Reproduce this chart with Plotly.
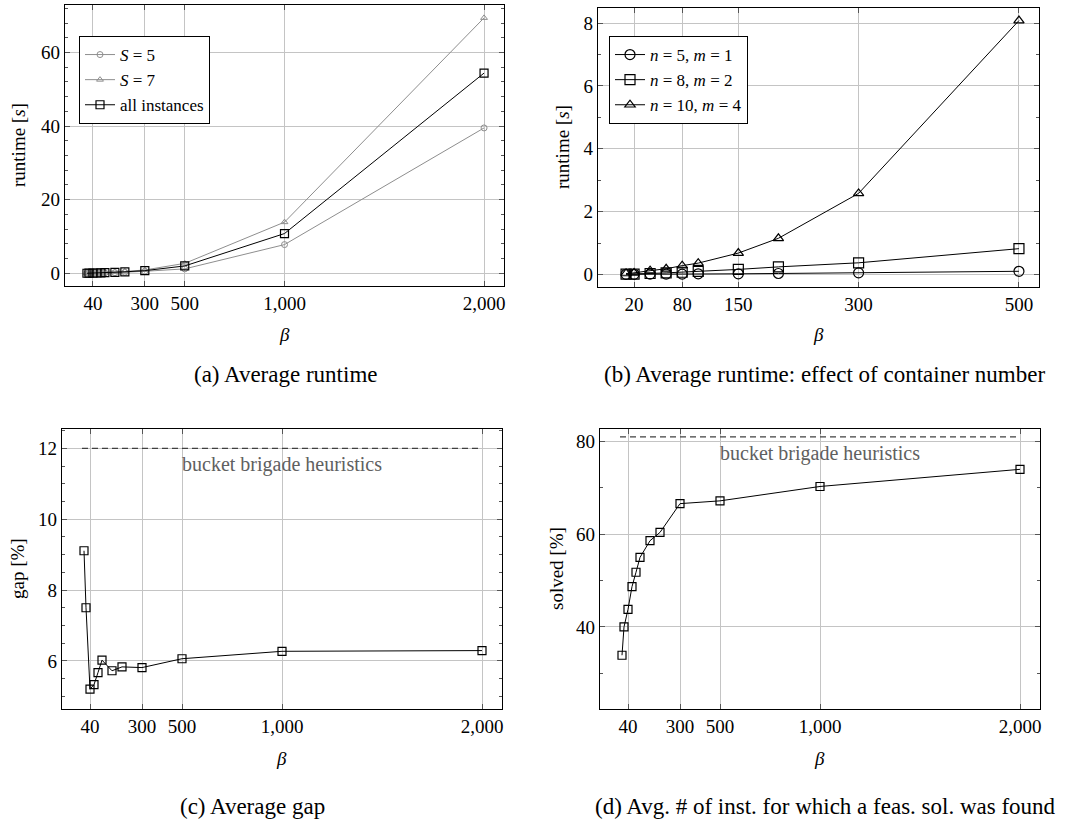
import plotly.graph_objects as go

# ---------------- data ----------------
beta_a = [10, 20, 40, 60, 80, 100, 150, 200, 300, 500, 1000, 2000]
runtime_S5 = [0.01, 0.02, 0.04, 0.06, 0.09, 0.12, 0.2, 0.3, 0.55, 1.2, 7.8, 39.5]
runtime_S7 = [0.02, 0.04, 0.07, 0.1, 0.14, 0.2, 0.35, 0.5, 0.9, 2.7, 13.9, 69.4]
runtime_all = [0.015, 0.03, 0.055, 0.08, 0.11, 0.16, 0.27, 0.4, 0.72, 2.0, 10.8, 54.4]

beta_b = [10, 20, 40, 60, 80, 100, 150, 200, 300, 500]
runtime_n5 = [0.005, 0.005, 0.01, 0.01, 0.01, 0.02, 0.02, 0.03, 0.05, 0.1]
runtime_n8 = [0.01, 0.01, 0.03, 0.05, 0.07, 0.1, 0.16, 0.24, 0.37, 0.82]
runtime_n10 = [0.03, 0.05, 0.12, 0.18, 0.28, 0.36, 0.68, 1.15, 2.58, 8.08]

gap = [9.11, 7.5, 5.2, 5.33, 5.67, 6.02, 5.72, 5.83, 5.81, 6.06, 6.27, 6.29]
solved = [33.9, 40.0, 43.8, 48.7, 51.8, 55.0, 58.6, 60.4, 66.6, 67.2, 70.3, 74.0]

heur_x = [0, 2000]
heur_gap = [12, 12]
heur_solved = [81, 81]
heur_label = "bucket brigade heuristics"

xticks_big = [40, 300, 500, 1000, 2000]
xticklabels_big = ["40", "300", "500", "1,000", "2,000"]
xticks_b = [20, 80, 150, 300, 500]
xticklabels_b = ["20", "80", "150", "300", "500"]

captions = [
    "(a) Average runtime",
    "(b) Average runtime: effect of container number",
    "(c) Average gap",
    "(d) Avg. # of inst. for which a feas. sol. was found",
]

# ---------------- style ----------------
W, H = 1070, 823
FONT = "Liberation Serif, Times New Roman, serif"
GRAY = "#8e8e8e"
GRID = "#c4c4c4"
TICK_SIZE = 19


def px(x0, x1):
    return [x0 / W, x1 / W]


def py(y0, y1):
    return [1 - y1 / H, 1 - y0 / H]


fig = go.Figure()

# (a)
fig.add_trace(go.Scatter(x=beta_a, y=runtime_S5, mode="lines+markers", name="<i>S</i> = 5",
                         line=dict(color=GRAY, width=1),
                         marker=dict(symbol="circle-open", size=6, color=GRAY, line=dict(width=1)),
                         xaxis="x", yaxis="y", legend="legend"))
fig.add_trace(go.Scatter(x=beta_a, y=runtime_S7, mode="lines+markers", name="<i>S</i> = 7",
                         line=dict(color=GRAY, width=1),
                         marker=dict(symbol="triangle-up-open", size=6, color=GRAY, line=dict(width=1)),
                         xaxis="x", yaxis="y", legend="legend"))
fig.add_trace(go.Scatter(x=beta_a, y=runtime_all, mode="lines+markers", name="all instances",
                         line=dict(color="black", width=1),
                         marker=dict(symbol="square-open", size=8, color="black", line=dict(width=1.2)),
                         xaxis="x", yaxis="y", legend="legend"))

# (b)
fig.add_trace(go.Scatter(x=beta_b, y=runtime_n5, mode="lines+markers", name="<i>n</i> = 5, <i>m</i> = 1",
                         line=dict(color="black", width=1),
                         marker=dict(symbol="circle-open", size=10, color="black", line=dict(width=1.2)),
                         xaxis="x2", yaxis="y2", legend="legend2"))
fig.add_trace(go.Scatter(x=beta_b, y=runtime_n8, mode="lines+markers", name="<i>n</i> = 8, <i>m</i> = 2",
                         line=dict(color="black", width=1),
                         marker=dict(symbol="square-open", size=10, color="black", line=dict(width=1.2)),
                         xaxis="x2", yaxis="y2", legend="legend2"))
fig.add_trace(go.Scatter(x=beta_b, y=runtime_n10, mode="lines+markers", name="<i>n</i> = 10, <i>m</i> = 4",
                         line=dict(color="black", width=1),
                         marker=dict(symbol="triangle-up-open", size=9, color="black", line=dict(width=1.2)),
                         xaxis="x2", yaxis="y2", legend="legend2"))

# (c)
fig.add_trace(go.Scatter(x=heur_x, y=heur_gap, mode="lines", showlegend=False,
                         line=dict(color="#404040", width=1.2, dash="6px,4px"),
                         xaxis="x3", yaxis="y3"))
fig.add_trace(go.Scatter(x=beta_a, y=gap, mode="lines+markers", showlegend=False,
                         line=dict(color="black", width=1),
                         marker=dict(symbol="square-open", size=8, color="black", line=dict(width=1.2)),
                         xaxis="x3", yaxis="y3"))

# (d)
fig.add_trace(go.Scatter(x=heur_x, y=heur_solved, mode="lines", showlegend=False,
                         line=dict(color="#404040", width=1.2, dash="6px,4px"),
                         xaxis="x4", yaxis="y4"))
fig.add_trace(go.Scatter(x=beta_a, y=solved, mode="lines+markers", showlegend=False,
                         line=dict(color="black", width=1),
                         marker=dict(symbol="square-open", size=8, color="black", line=dict(width=1.2)),
                         xaxis="x4", yaxis="y4"))

tickfont = dict(family=FONT, size=TICK_SIZE, color="black")


def xaxis(domain, anchor, rng, tv, tt):
    return dict(domain=domain, anchor=anchor, range=rng, tickvals=tv, ticktext=tt,
                showgrid=True, gridcolor=GRID, gridwidth=1, zeroline=False,
                showline=True, linecolor="black", linewidth=1.2, mirror="ticks",
                ticks="inside", ticklen=5, tickcolor="#555", tickfont=tickfont)


def yaxis(domain, anchor, rng, tv, minor_dtick):
    return dict(domain=domain, anchor=anchor, range=rng, tickvals=tv,
                ticktext=[str(v) for v in tv],
                showgrid=True, gridcolor=GRID, gridwidth=1, zeroline=False,
                showline=True, linecolor="black", linewidth=1.2, mirror="ticks",
                ticks="inside", ticklen=5, tickcolor="#555", tickfont=tickfont,
                minor=dict(ticks="inside", ticklen=3, dtick=minor_dtick, tick0=0,
                           tickcolor="#555", showgrid=False))


A = dict(x=px(65, 504), y=py(5, 286))
B = dict(x=px(598, 1039), y=py(8, 287))
C = dict(x=px(62, 502), y=py(429, 709))
D = dict(x=px(600, 1040), y=py(429, 709))

legfont = dict(family=FONT, size=17, color="black")

fig.update_layout(
    width=W, height=H, autosize=False,
    margin=dict(l=0, r=0, t=0, b=0),
    paper_bgcolor="white", plot_bgcolor="white",
    font=dict(family=FONT, size=TICK_SIZE, color="black"),
    xaxis=xaxis(A["x"], "y", [-100, 2100], xticks_big, xticklabels_big),
    yaxis=yaxis(A["y"], "x", [-3.45, 72.9], [0, 20, 40, 60], 4),
    xaxis2=xaxis(B["x"], "y2", [-25, 525], xticks_b, xticklabels_b),
    yaxis2=yaxis(B["y"], "x2", [-0.4, 8.48], [0, 2, 4, 6, 8], 1),
    xaxis3=xaxis(C["x"], "y3", [-100, 2100], xticks_big, xticklabels_big),
    yaxis3=yaxis(C["y"], "x3", [4.64, 12.55], [6, 8, 10, 12], 0.5),
    xaxis4=xaxis(D["x"], "y4", [-100, 2100], xticks_big, xticklabels_big),
    yaxis4=yaxis(D["y"], "x4", [22.3, 82.7], [40, 60, 80], 10),
    legend=dict(x=79 / W, y=1 - 36 / H, xanchor="left", yanchor="top",
                bgcolor="white", bordercolor="black", borderwidth=1,
                font=legfont, tracegroupgap=0),
    legend2=dict(x=609 / W, y=1 - 36 / H, xanchor="left", yanchor="top",
                 bgcolor="white", bordercolor="black", borderwidth=1,
                 font=legfont, tracegroupgap=0),
)

ann = []
# x titles
for (cx, cy) in [(284, 334), (818, 334), (281, 758), (819, 758)]:
    ann.append(dict(text="<i>β</i>", x=cx / W, y=1 - cy / H, xref="paper", yref="paper",
                    showarrow=False, font=dict(family=FONT, size=TICK_SIZE), xanchor="center", yanchor="middle"))
# y titles
for (txt, cx, cy) in [("runtime [<i>s</i>]", 18, 145), ("runtime [<i>s</i>]", 563, 147),
                      ("gap [%]", 17, 569), ("solved [%]", 556, 569)]:
    ann.append(dict(text=txt, x=cx / W, y=1 - cy / H, xref="paper", yref="paper", textangle=-90,
                    showarrow=False, font=dict(family=FONT, size=TICK_SIZE), xanchor="center", yanchor="middle"))
# heuristic labels
ann.append(dict(text=heur_label, x=1000, y=11.56, xref="x3", yref="y3", showarrow=False,
                font=dict(family=FONT, size=20, color="#606060")))
ann.append(dict(text=heur_label, x=1000, y=77.5, xref="x4", yref="y4", showarrow=False,
                font=dict(family=FONT, size=20, color="#606060")))
# captions
for (txt, cx, cy) in zip(captions, [285, 824, 252, 825], [375, 375, 806, 806]):
    ann.append(dict(text=txt, x=cx / W, y=1 - cy / H, xref="paper", yref="paper",
                    showarrow=False, font=dict(family=FONT, size=23), xanchor="center", yanchor="middle"))
fig.update_layout(annotations=ann)

fig.write_html(
    "out.html",
    config={"displayModeBar": False},
    post_script="document.body.style.margin='0px';document.body.style.overflow='hidden';",
)
